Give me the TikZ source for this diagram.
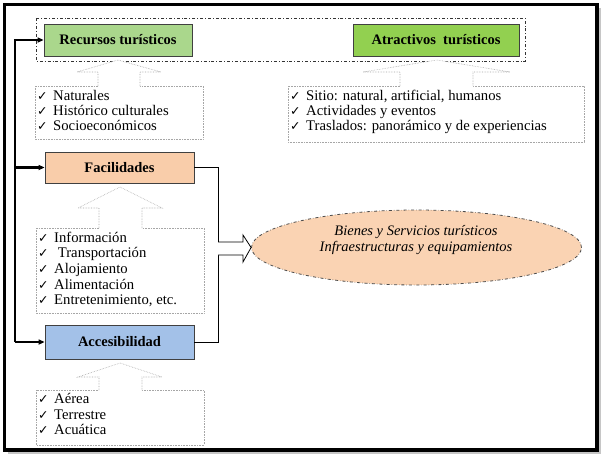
\documentclass[tikz,border=0pt]{standalone}
\usepackage{fontspec}
\setmainfont{Liberation Serif}
\newfontfamily\ckfont{DejaVu Sans}
\usetikzlibrary{shapes.geometric,arrows.meta}
\definecolor{recgreen}{HTML}{AAD78C}
\definecolor{atrgreen}{HTML}{92D050}
\definecolor{facpeach}{HTML}{F9CDAA}
\definecolor{accblue}{HTML}{A3C1E8}
\definecolor{ellpeach}{HTML}{FAD3B3}
\newcommand{\ck}{\makebox[16pt][l]{\ckfont\fontsize{12.5}{12.5}\selectfont ✓}}
\newcommand{\blockup}[8]{%
  \fill[white] (#6,#8+1.5) -- (#6,#3) -- (#4,#3) -- (#1,#2) -- (#5,#3) -- (#7,#3) -- (#7,#8+1.5) -- cycle;
  \draw[listline] (#6,#8) -- (#6,#3) -- (#4,#3) -- (#1,#2) -- (#5,#3) -- (#7,#3) -- (#7,#8);
}
\tikzset{
  titlebox/.style={draw=black!75, line width=0.8pt, inner sep=0pt, font=\fontsize{14.5}{16}\selectfont\bfseries},
  listline/.style={draw=gray!70, densely dotted, line width=0.6pt},
  item/.style={anchor=base west, inner sep=0pt, font=\fontsize{14.7}{15.5}\selectfont},
  conn/.style={line width=2.2pt, -{Triangle[length=6pt,width=5pt]}},
  thinline/.style={draw=black, line width=0.8pt}
}
\begin{document}
\begin{tikzpicture}[x=1pt,y=-1pt]
\useasboundingbox (0,0) rectangle (603,456);
% frame with shadow
\fill[gray!45] (8,8) rectangle (601,454);
\draw[line width=3.5pt, fill=white] (4.5,4.5) rectangle (597,450);

% dash-dot group
\draw[black!80, line width=0.8pt, dash dot] (36,18) rectangle (525,61);

% title boxes
\node[titlebox, fill=recgreen, minimum width=148pt, minimum height=32pt] (rec) at (118,40) {Recursos turísticos};
\node[titlebox, fill=atrgreen, minimum width=166pt, minimum height=32pt] (atr) at (436,40) {Atractivos\ \ turísticos};
\node[titlebox, fill=facpeach, minimum width=149pt, minimum height=31pt] (fac) at (119.5,167.5) {Facilidades};
\node[titlebox, fill=accblue, minimum width=149pt, minimum height=34pt] (acc) at (119.5,342) {Accesibilidad};

% list boxes
\draw[listline] (35,86) rectangle (203,139);
\draw[listline] (288,86) rectangle (584,142);
\draw[listline] (36,228) rectangle (204,313);
\draw[listline] (36,390) rectangle (204,445);

% block up arrows
\blockup{118}{60}{72}{77}{161}{98}{140}{86}
\blockup{437}{60}{72}{363}{510}{400}{473}{86}
\blockup{120}{187}{208}{78}{162}{99}{142}{228}
\blockup{120}{363}{377}{78}{162}{99}{142}{390}

% list items
\node[item] (r1) at (37,100) {\ck Naturales};
\node[item] (r2) at (37,115.3) {\ck Histórico culturales};
\node[item] (r3) at (37,130.7) {\ck Socioeconómicos};

\node[item] (a1) at (290,100) {\ck Sitio: natural, artificial, humanos};
\node[item] (a2) at (290,115.3) {\ck Actividades y eventos};
\node[item] (a3) at (290,130.7) {\ck Traslados: panorámico y de experiencias};

\node[item] (f1) at (38,242) {\ck Información};
\node[item] (f2) at (38,257.7) {\ck \ Transportación};
\node[item] (f3) at (38,273.4) {\ck Alojamiento};
\node[item] (f4) at (38,289.1) {\ck Alimentación};
\node[item] (f5) at (38,304.8) {\ck Entretenimiento, etc.};

\node[item] (c1) at (38,403.3) {\ck Aérea};
\node[item] (c2) at (38,419) {\ck Terrestre};
\node[item] (c3) at (38,434.5) {\ck Acuática};

% left connector
\coordinate (L) at (15,0);
\draw[line width=2.2pt] (L |- acc.west) -- (L |- rec.west);
\draw[conn] ([xshift=-1.1pt]L |- rec.west) -- (rec.west);
\draw[conn] (L |- fac.west) -- (fac.west);
\draw[conn] (L |- acc.west) -- (acc.west);

% right bracket
\coordinate (R) at (218,0);
\draw[thinline] (fac.east) -- (R |- fac.east) -- (R |- acc.east) -- (acc.east);

% ellipse
\node[ellipse, fill=ellpeach, draw=black!70, dash dot, line width=0.8pt, minimum width=330pt, minimum height=75pt, inner sep=0pt] (ell) at (416.5,247.5) {};
\node[align=center, inner sep=0pt, font=\fontsize{14.5}{15.5}\selectfont\itshape] (elltext) at (416,240) {Bienes y Servicios turísticos\\Infraestructuras y equipamientos};

% block right arrow
\draw[thinline, fill=white, line join=miter] (R |- 0,242) -- (243,242) -- (243,235) -- (ell.west) -- (243,262) -- (243,255) -- (R |- 0,255);
\end{tikzpicture}
\end{document}
